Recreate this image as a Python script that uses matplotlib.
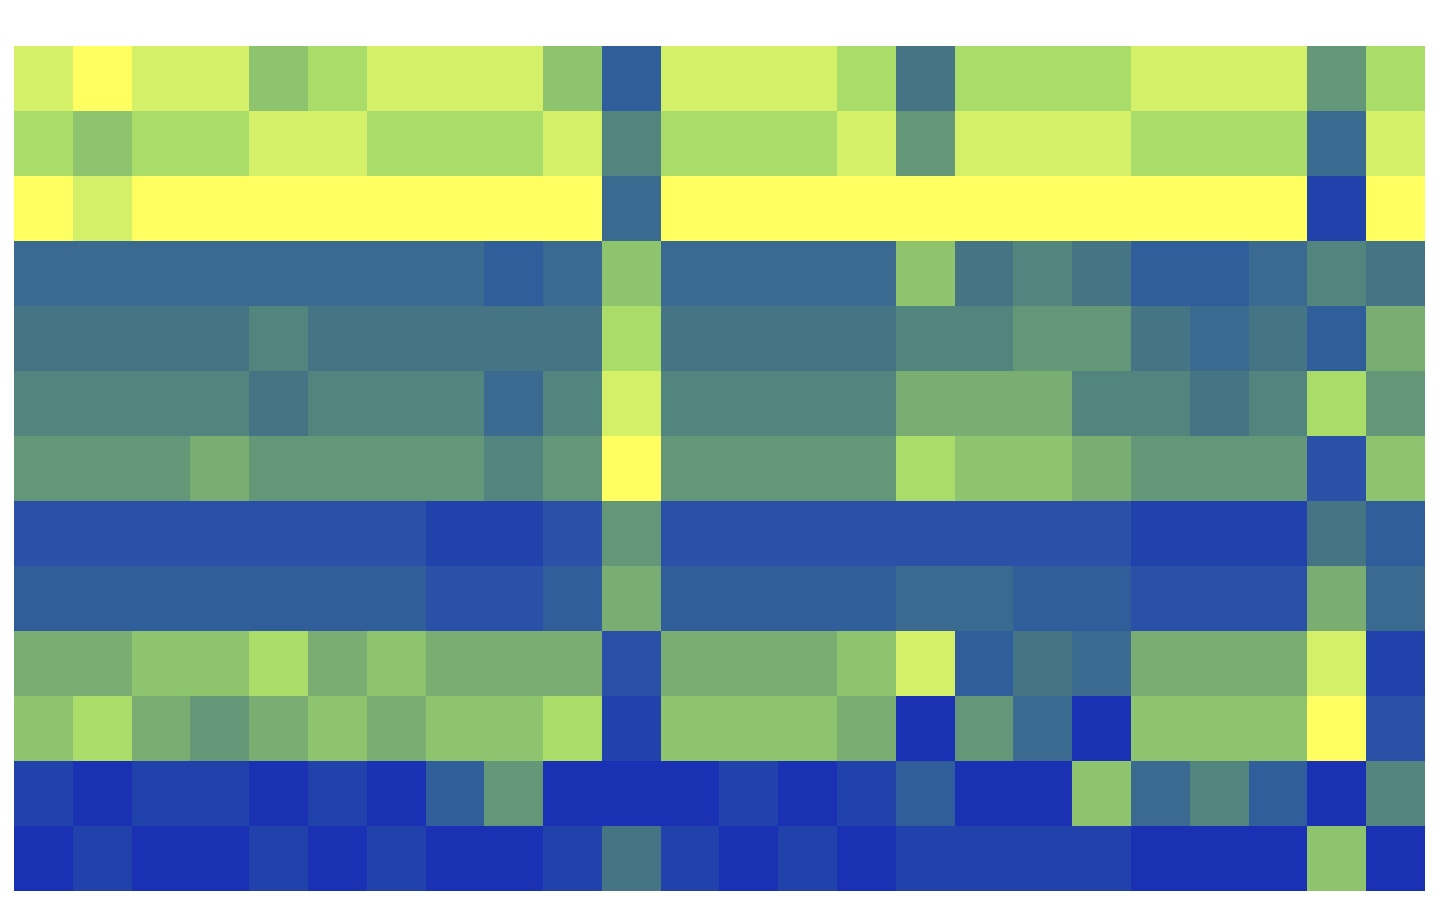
import matplotlib
matplotlib.use("Agg")
import matplotlib.pyplot as plt
import numpy as np
from matplotlib.colors import ListedColormap, BoundaryNorm

#%%data - one list per row (top to bottom), 24 columns, values are colour levels 0..12
row_00 = [11, 12, 11, 11, 9, 10, 11, 11, 11, 9, 3, 11, 11, 11, 10, 5, 10, 10, 10, 11, 11, 11, 7, 10]
row_01 = [10, 9, 10, 10, 11, 11, 10, 10, 10, 11, 6, 10, 10, 10, 11, 7, 11, 11, 11, 10, 10, 10, 4, 11]
row_02 = [12, 11, 12, 12, 12, 12, 12, 12, 12, 12, 4, 12, 12, 12, 12, 12, 12, 12, 12, 12, 12, 12, 1, 12]
row_03 = [4, 4, 4, 4, 4, 4, 4, 4, 3, 4, 9, 4, 4, 4, 4, 9, 5, 6, 5, 3, 3, 4, 6, 5]
row_04 = [5, 5, 5, 5, 6, 5, 5, 5, 5, 5, 10, 5, 5, 5, 5, 6, 6, 7, 7, 5, 4, 5, 3, 8]
row_05 = [6, 6, 6, 6, 5, 6, 6, 6, 4, 6, 11, 6, 6, 6, 6, 8, 8, 8, 6, 6, 5, 6, 10, 7]
row_06 = [7, 7, 7, 8, 7, 7, 7, 7, 6, 7, 12, 7, 7, 7, 7, 10, 9, 9, 8, 7, 7, 7, 2, 9]
row_07 = [2, 2, 2, 2, 2, 2, 2, 1, 1, 2, 7, 2, 2, 2, 2, 2, 2, 2, 2, 1, 1, 1, 5, 3]
row_08 = [3, 3, 3, 3, 3, 3, 3, 2, 2, 3, 8, 3, 3, 3, 3, 4, 4, 3, 3, 2, 2, 2, 8, 4]
row_09 = [8, 8, 9, 9, 10, 8, 9, 8, 8, 8, 2, 8, 8, 8, 9, 11, 3, 5, 4, 8, 8, 8, 11, 1]
row_10 = [9, 10, 8, 7, 8, 9, 8, 9, 9, 10, 1, 9, 9, 9, 8, 0, 7, 4, 0, 9, 9, 9, 12, 2]
row_11 = [1, 0, 1, 1, 0, 1, 0, 3, 7, 0, 0, 0, 1, 0, 1, 3, 0, 0, 9, 4, 6, 3, 0, 6]
row_12 = [0, 1, 0, 0, 1, 0, 1, 0, 0, 1, 5, 1, 0, 1, 0, 1, 1, 1, 1, 0, 0, 0, 9, 0]

palette = ["#1b31b3", "#2142ab", "#2a50a7", "#305e9a", "#3a6a90", "#457585", "#52857d",
           "#649678", "#7aad72", "#8ec46e", "#aadc6a", "#d4ef68", "#ffff62"]


#%%plot
def main():
    grid = np.array([row_00, row_01, row_02, row_03, row_04, row_05, row_06,
                     row_07, row_08, row_09, row_10, row_11, row_12])

    cmap = ListedColormap(palette)
    norm = BoundaryNorm(np.arange(-0.5, len(palette) + 0.5, 1), cmap.N)

    fig = plt.figure(figsize=(14.4, 9), dpi=100)
    ax = fig.add_axes([14 / 1440, 1 - 891 / 900, 1411 / 1440, 845 / 900])
    ax.imshow(grid, cmap=cmap, norm=norm, aspect="auto", interpolation="nearest")
    ax.set_axis_off()

    fig.savefig("out.png", dpi=100)


if __name__ == "__main__":
    main()
